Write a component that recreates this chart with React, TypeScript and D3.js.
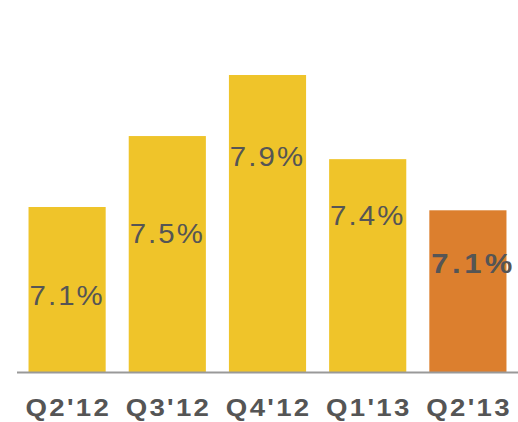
import * as d3 from "d3";

const quarters = ["Q2'12", "Q3'12", "Q4'12", "Q1'13", "Q2'13"];
const rates = [7.1, 7.53, 7.9, 7.39, 7.08];
const labels = ["7.1%", "7.5%", "7.9%", "7.4%", "7.1%"];
// label baseline distance below the bar top, px
const labelOffset = [98, 107, 91, 66, 63];

const W = 518;
const H = 422;
const baseY = 372;

export default function App() {
  const x = d3
    .scaleBand<string>()
    .domain(quarters)
    .range([17, 518])
    .paddingInner(0.23)
    .paddingOuter(0.115);

  const y = d3.scaleLinear().domain([6.1, 8.1]).range([baseY, baseY - 330]);

  const last = quarters.length - 1;
  const font = "'Liberation Sans', Arial, sans-serif";

  return (
    <svg
      width={W}
      height={H}
      style={{ position: "absolute", left: 0, top: 0, background: "#fff" }}
    >
      {quarters.map((q, i) => (
        <rect
          key={q}
          x={x(q)}
          y={y(rates[i])}
          width={x.bandwidth()}
          height={baseY - y(rates[i])}
          fill={i === last ? "#DC7F2E" : "#EFC42A"}
        />
      ))}
      <line x1={17} x2={W} y1={baseY + 0.5} y2={baseY + 0.5} stroke="#999" strokeWidth={2} />
      {quarters.map((q, i) => {
        const hl = i === last;
        const ls = hl ? 3 : 2;
        const sx = hl ? 1.15 : 1.05;
        const cx = (x(q) ?? 0) + x.bandwidth() / 2 + (ls * sx) / 2 + (hl ? 4 : -1);
        const cy = y(rates[i]) + labelOffset[i];
        return (
          <text
            key={"l" + q}
            transform={`translate(${cx},${cy}) scale(${sx},1)`}
            textAnchor="middle"
            fontFamily={font}
            fontSize={hl ? 27 : 28}
            fontWeight={hl ? 700 : 400}
            letterSpacing={ls}
            fill="#555"
          >
            {labels[i]}
          </text>
        );
      })}
      {quarters.map((q) => {
        const cx = (x(q) ?? 0) + x.bandwidth() / 2 + 1.15;
        return (
          <text
            key={"t" + q}
            transform={`translate(${cx},416) scale(1.15,1)`}
            textAnchor="middle"
            fontFamily={font}
            fontSize={24}
            fontWeight={700}
            letterSpacing={2}
            fill="#555"
          >
            {q}
          </text>
        );
      })}
    </svg>
  );
}
